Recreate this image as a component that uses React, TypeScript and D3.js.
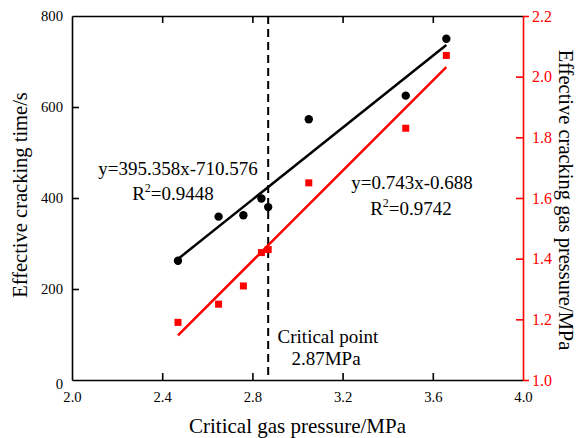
import React, { useRef, useEffect } from 'react';
import * as d3 from 'd3';

// data
const pressure = [2.47, 2.65, 2.76, 2.84, 2.87, 3.05, 3.48, 3.66];
const crackTime = [262, 359, 362, 399, 380, 573, 625, 750];
const crackGas = [1.19, 1.25, 1.31, 1.42, 1.43, 1.65, 1.83, 2.07];

const xTicks = [2.0, 2.4, 2.8, 3.2, 3.6, 4.0];
const leftTicks = [0, 200, 400, 600, 800];
const rightTicks = [1.0, 1.2, 1.4, 1.6, 1.8, 2.0, 2.2];

const fitTime = { k: 395.358, b: -710.576 };
const fitGas = { k: 0.743, b: -0.688 };
const critical = 2.87;

const W = 579;
const H = 438;
const margin = { top: 16, right: 56, bottom: 58, left: 72 };
const font = '"Liberation Serif", "Times New Roman", serif';

const App = () => {
  const svgRef = useRef<SVGSVGElement>(null);

  useEffect(() => {
    const svg = d3.select(svgRef.current);
    svg.selectAll('*').remove();

    const x = d3.scaleLinear().domain([2.0, 4.0]).range([margin.left, W - margin.right]);
    const yL = d3.scaleLinear().domain([0, 800]).range([H - margin.bottom, margin.top]);
    const yR = d3.scaleLinear().domain([1.0, 2.2]).range([H - margin.bottom, margin.top]);
    const x0 = margin.left, x1 = W - margin.right;
    const y0 = H - margin.bottom, y1 = margin.top;

    const styleAxis = (g, color, size) => {
      g.selectAll('path').attr('stroke', color).attr('stroke-width', 1.6);
      g.selectAll('line').attr('stroke', color).attr('stroke-width', 1.6);
      g.selectAll('text').attr('fill', color).attr('font-family', font).attr('font-size', size);
    };

    // bottom
    const gb = svg.append('g').attr('transform', `translate(0,${y0})`)
      .call(d3.axisBottom(x).tickValues(xTicks).tickSizeInner(-7).tickSizeOuter(0).tickPadding(12).tickFormat(d3.format('.1f')));
    styleAxis(gb, '#000', 14.7);
    gb.selectAll('.tick').filter((d) => d === 2.0 || d === 4.0).select('line').remove();

    // top
    const gt = svg.append('g').attr('transform', `translate(0,${y1})`)
      .call(d3.axisTop(x).tickValues(xTicks.slice(1, -1)).tickSizeInner(-7).tickSizeOuter(0).tickFormat(() => ''));
    styleAxis(gt, '#000', 14.7);

    // left
    const gl = svg.append('g').attr('transform', `translate(${x0},0)`)
      .call(d3.axisLeft(yL).tickValues(leftTicks).tickSizeInner(-7).tickSizeOuter(0).tickPadding(9));
    styleAxis(gl, '#000', 14.7);
    gl.selectAll('.tick').filter((d) => d === 0 || d === 800).select('line').remove();
    gl.selectAll('.tick').filter((d) => d === 0).select('text').attr('dy', '0.6em');

    // right
    const gr = svg.append('g').attr('transform', `translate(${x1},0)`)
      .call(d3.axisRight(yR).tickValues(rightTicks).tickSizeInner(-7).tickSizeOuter(0).tickPadding(9).tickFormat(d3.format('.1f')));
    styleAxis(gr, '#ff0000', 16);
    gr.selectAll('.tick').filter((d) => d === 1.0 || d === 2.2).select('line').attr('x2', 6);

    // critical point
    svg.append('line')
      .attr('x1', x(critical)).attr('x2', x(critical))
      .attr('y1', y1).attr('y2', y0)
      .attr('stroke', '#000').attr('stroke-width', 2)
      .attr('stroke-dasharray', '8,5');

    // fit lines
    const xs = d3.extent(pressure);
    svg.append('line')
      .attr('x1', x(xs[0])).attr('y1', yL(fitTime.k * xs[0] + fitTime.b))
      .attr('x2', x(xs[1])).attr('y2', yL(fitTime.k * xs[1] + fitTime.b))
      .attr('stroke', '#000').attr('stroke-width', 2.5);
    svg.append('line')
      .attr('x1', x(xs[0])).attr('y1', yR(fitGas.k * xs[0] + fitGas.b))
      .attr('x2', x(xs[1])).attr('y2', yR(fitGas.k * xs[1] + fitGas.b))
      .attr('stroke', '#ff0000').attr('stroke-width', 2.5);

    // points
    svg.selectAll('.dot')
      .data(pressure)
      .join('circle')
      .attr('class', 'dot')
      .attr('cx', (d) => x(d))
      .attr('cy', (d, i) => yL(crackTime[i]))
      .attr('r', 4.2)
      .attr('fill', '#000');

    svg.selectAll('.sq')
      .data(pressure)
      .join('rect')
      .attr('class', 'sq')
      .attr('x', (d) => x(d) - 3.5)
      .attr('y', (d, i) => yR(crackGas[i]) - 3.5)
      .attr('width', 7)
      .attr('height', 7)
      .attr('fill', '#ff0000');

    // annotations
    const note = (tx, ty, txt) =>
      svg.append('text').attr('x', tx).attr('y', ty)
        .attr('text-anchor', 'middle').attr('font-family', font).attr('font-size', 19).attr('fill', '#000')
        .text(txt);
    const rsq = (tx, ty, val) => {
      const t = svg.append('text').attr('x', tx).attr('y', ty)
        .attr('text-anchor', 'middle').attr('font-family', font).attr('font-size', 19).attr('fill', '#000');
      t.append('tspan').text('R');
      t.append('tspan').attr('font-size', 12).attr('dy', -8).text('2');
      t.append('tspan').attr('dy', 8).text('=' + val);
    };
    note(178, 175, 'y=395.358x-710.576');
    rsq(173, 200, '0.9448');
    note(412, 189, 'y=0.743x-0.688');
    rsq(411, 215, '0.9742');
    note(328, 343, 'Critical point');
    note(326, 365, '2.87MPa');

    // axis titles
    svg.append('text')
      .attr('x', (x0 + x1) / 2).attr('y', 433)
      .attr('text-anchor', 'middle').attr('font-family', font).attr('font-size', 21)
      .text('Critical gas pressure/MPa');
    svg.append('text')
      .attr('transform', `translate(27,195) rotate(-90)`)
      .attr('text-anchor', 'middle').attr('font-family', font).attr('font-size', 20.5)
      .text('Effective cracking time/s');
    svg.append('text')
      .attr('transform', `translate(559,200) rotate(90)`)
      .attr('text-anchor', 'middle').attr('font-family', font).attr('font-size', 20.5)
      .text('Effective cracking gas pressure/MPa');
  }, []);

  return (
    <svg ref={svgRef} width={W} height={H} style={{ position: 'absolute', left: 0, top: 0, background: '#fff' }} />
  );
};

export default App;
